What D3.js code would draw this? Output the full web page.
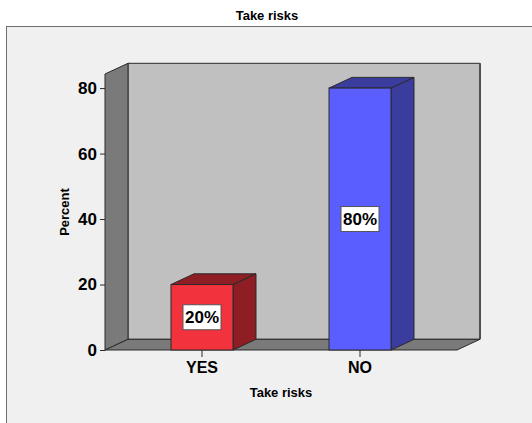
<!DOCTYPE html>
<html>
<head>
<meta charset="utf-8">
<script src="https://cdn.jsdelivr.net/npm/d3@7"></script>
<style>
  html, body { margin: 0; padding: 0; background: #ffffff; }
  svg { display: block; }
  text { font-family: "Liberation Sans", Arial, sans-serif; font-weight: bold; fill: #000; }
</style>
</head>
<body>
<svg id="chart" width="532" height="423"></svg>
<script>
// Data
const categories = ["YES", "NO"];
const percents = [20, 80];
const yTicks = [0, 20, 40, 60, 80];
const chartTitle = "Take risks";
const xTitle = "Take risks";
const yTitle = "Percent";

// Colours per category: front face, side/top faces
const frontColors = ["#f2323c", "#5a5eff"];
const sideColors = ["#8e1e24", "#3a3d9e"];

const svg = d3.select("#chart");
const W = 532, H = 423;

// Panel frame
svg.append("rect").attr("x", 6.5).attr("y", 26.5).attr("width", W).attr("height", H)
  .attr("fill", "#f0f0f0").attr("stroke", "#6e6e6e").attr("stroke-width", 1);

// Title
svg.append("text").attr("x", 267).attr("y", 20).attr("text-anchor", "middle")
  .attr("font-size", 13).text(chartTitle);

// 3D plotting area geometry
const x0 = 105, x1 = 457;        // front floor edge
const dx = 23, dy = -10.7;       // depth offset
const yMaxWall = 84.3;

const y = d3.scaleLinear().domain([0, yMaxWall]).range([350, 74]);
const x = d3.scaleBand().domain(categories).range([x0, x1])
  .paddingInner(0.6076).paddingOuter(0.4177);

const poly = pts => pts.map(p => p.join(",")).join(" ");
const stroke = "#2a2a2a";

// Back wall
svg.append("polygon")
  .attr("points", poly([[x0 + dx, y(0) + dy], [x1 + dx, y(0) + dy], [x1 + dx, y(yMaxWall) + dy], [x0 + dx, y(yMaxWall) + dy]]))
  .attr("fill", "#c0c0c0").attr("stroke", stroke).attr("stroke-width", 1);
svg.append("line")
  .attr("x1", x1 + dx).attr("x2", x1 + dx).attr("y1", y(yMaxWall) + dy).attr("y2", y(0) + dy)
  .attr("stroke", "#505050").attr("stroke-width", 2);

// Left wall
svg.append("polygon")
  .attr("points", poly([[x0, y(0)], [x0 + dx, y(0) + dy], [x0 + dx, y(yMaxWall) + dy], [x0, y(yMaxWall)]]))
  .attr("fill", "#7a7a7a").attr("stroke", stroke).attr("stroke-width", 1);

// Floor
svg.append("polygon")
  .attr("points", poly([[x0, y(0)], [x1, y(0)], [x1 + dx, y(0) + dy], [x0 + dx, y(0) + dy]]))
  .attr("fill", "#7a7a7a").attr("stroke", stroke).attr("stroke-width", 1);

// Bars
const bars = svg.append("g").selectAll("g").data(categories).join("g");
bars.each(function (c, i) {
  const g = d3.select(this);
  const bx = x(c), bw = x.bandwidth();
  const yt = y(percents[i]), yb = y(0);
  // side face
  g.append("polygon")
    .attr("points", poly([[bx + bw, yb], [bx + bw + dx, yb + dy], [bx + bw + dx, yt + dy], [bx + bw, yt]]))
    .attr("fill", sideColors[i]).attr("stroke", stroke).attr("stroke-width", 1);
  // top face
  g.append("polygon")
    .attr("points", poly([[bx, yt], [bx + bw, yt], [bx + bw + dx, yt + dy], [bx + dx, yt + dy]]))
    .attr("fill", sideColors[i]).attr("stroke", stroke).attr("stroke-width", 1);
  // front face
  g.append("rect").attr("x", bx).attr("y", yt).attr("width", bw).attr("height", yb - yt)
    .attr("fill", frontColors[i]).attr("stroke", stroke).attr("stroke-width", 1);
  // value label
  const cx = bx + bw / 2, cy = (yt + yb) / 2;
  g.append("rect").attr("x", cx - 19).attr("y", cy - 12.5).attr("width", 38).attr("height", 25)
    .attr("fill", "#ffffff").attr("stroke", "#555").attr("stroke-width", 1);
  g.append("text").attr("x", cx).attr("y", cy).attr("dy", "0.36em")
    .attr("text-anchor", "middle").attr("font-size", 17).text(percents[i] + "%");
});

// Y axis
const yAxis = svg.append("g").attr("transform", `translate(${x0},0)`)
  .call(d3.axisLeft(y).tickValues(yTicks).tickSize(5).tickPadding(3).tickFormat(d3.format("d")));
yAxis.select(".domain").remove();
yAxis.selectAll("line").attr("stroke", stroke);
yAxis.selectAll("text").attr("font-size", 17).attr("font-family", "Liberation Sans, Arial, sans-serif")
  .attr("font-weight", "bold").attr("fill", "#000");

// X axis
const xAxis = svg.append("g").attr("transform", `translate(0,${y(0)})`)
  .call(d3.axisBottom(x).tickSize(7).tickPadding(5));
xAxis.select(".domain").remove();
xAxis.selectAll("line").attr("stroke", stroke);
xAxis.selectAll("text").attr("font-size", 16).attr("font-family", "Liberation Sans, Arial, sans-serif")
  .attr("font-weight", "bold").attr("fill", "#000");

// Axis titles
svg.append("text").attr("x", 281).attr("y", 397).attr("text-anchor", "middle")
  .attr("font-size", 13).text(xTitle);
svg.append("text").attr("transform", "translate(69,212) rotate(-90)").attr("text-anchor", "middle")
  .attr("font-size", 13).text(yTitle);
</script>
</body>
</html>
